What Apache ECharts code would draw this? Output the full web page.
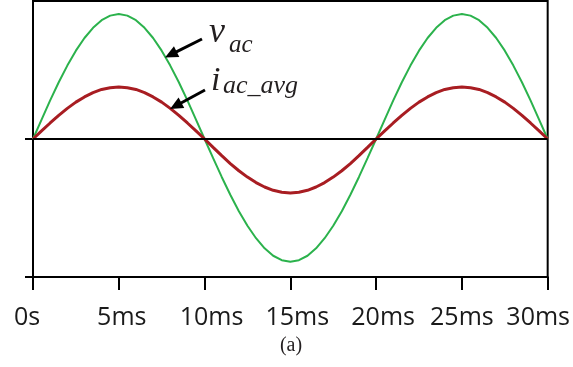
<!DOCTYPE html>
<html>
<head>
<meta charset="utf-8">
<script src="https://cdn.jsdelivr.net/npm/echarts@6/dist/echarts.min.js"></script>
<style>
html,body{margin:0;padding:0;background:#fff;}
#chart{width:573px;height:367px;}
</style>
</head>
<body>
<div id="chart"></div>
<script>
// time axis (ms)
var timeMs = [0,0.5,1,1.5,2,2.5,3,3.5,4,4.5,5,5.5,6,6.5,7,7.5,8,8.5,9,9.5,10,
  10.5,11,11.5,12,12.5,13,13.5,14,14.5,15,15.5,16,16.5,17,17.5,18,18.5,19,19.5,20,
  20.5,21,21.5,22,22.5,23,23.5,24,24.5,25,25.5,26,26.5,27,27.5,28,28.5,29,29.5,30];
// v_ac (normalized)
var vac = [0,0.141,0.280,0.411,0.532,0.640,0.732,0.806,0.861,0.894,0.906,
  0.894,0.861,0.806,0.732,0.640,0.532,0.411,0.280,0.141,0,
  -0.139,-0.275,-0.404,-0.523,-0.629,-0.719,-0.792,-0.846,-0.878,-0.889,
  -0.878,-0.846,-0.792,-0.719,-0.629,-0.523,-0.404,-0.275,-0.139,0,
  0.141,0.280,0.411,0.532,0.640,0.732,0.806,0.861,0.894,0.906,
  0.894,0.861,0.806,0.732,0.640,0.532,0.411,0.280,0.141,0];
// i_ac_avg (normalized)
var iacAvg = [0,0.059,0.116,0.171,0.222,0.267,0.305,0.336,0.359,0.372,0.377,
  0.372,0.359,0.336,0.305,0.267,0.222,0.171,0.116,0.059,0,
  -0.061,-0.121,-0.178,-0.230,-0.276,-0.316,-0.348,-0.372,-0.386,-0.391,
  -0.386,-0.372,-0.348,-0.316,-0.276,-0.230,-0.178,-0.121,-0.061,0,
  0.059,0.116,0.171,0.222,0.267,0.305,0.336,0.359,0.372,0.377,
  0.372,0.359,0.336,0.305,0.267,0.222,0.171,0.116,0.059,0];
var xTickValues = [0,5,10,15,20,25,30];
var xTickLabels = ['0s','5ms','10ms','15ms','20ms','25ms','30ms'];
var caption = '(a)';

var chart = echarts.init(document.getElementById('chart'), null, {renderer:'canvas'});

function pairs(xs, ys){ return xs.map(function(x,i){ return [x, ys[i]]; }); }

// per-label horizontal nudges (style)
var labelPad = {
  r0:[0,12,0,0], r1:[0,0,0,6], r2:[0,0,0,14], r3:[0,0,0,14],
  r4:[0,0,0,14], r5:[0,0,0,0], r6:[0,19,0,0]
};
var rich = {};
Object.keys(labelPad).forEach(function(k){
  rich[k] = {fontFamily:'"Open Sans", sans-serif', fontSize:25, color:'#1a1a1a', padding:labelPad[k]};
});

function arrow(x1,y1,x2,y2){
  var dx=x2-x1, dy=y2-y1, L=Math.sqrt(dx*dx+dy*dy), ux=dx/L, uy=dy/L;
  var hl=13, hw=6;
  var bx=x2-ux*hl, by=y2-uy*hl;
  return [
    {type:'line', shape:{x1:x1,y1:y1,x2:bx+ux*2,y2:by+uy*2}, style:{stroke:'#000',lineWidth:3}, z:100},
    {type:'polygon', shape:{points:[[x2,y2],[bx-uy*hw,by+ux*hw],[bx+uy*hw,by-ux*hw]]}, style:{fill:'#000'}, z:100}
  ];
}

var serif = '"Liberation Serif", "Times New Roman", serif';
function txt(x, y, s, size, italic, align){
  return {type:'text', x:x, y:y, z:100,
    style:{text:s, fontFamily:serif, fontSize:size, fontStyle:italic?'italic':'normal',
      fill:'#231f20', verticalAlign:'middle', align:align||'left'}};
}
var graphics = [].concat(
  arrow(202,39,165,57.5),
  arrow(205,90,170,109),
  [
    txt(209, 33, 'v', 36, true),
    txt(229, 45, 'ac', 25, true),
    txt(211, 81, 'i', 34, true),
    txt(223, 86, 'ac_avg', 26, true),
    txt(291, 346, caption, 20, false, 'center')
  ]
);

chart.setOption({
  animation:false,
  backgroundColor:'#fff',
  grid:{left:33, right:25, top:1, bottom:90, show:true, borderColor:'#000', borderWidth:2, containLabel:false},
  xAxis:{
    type:'value', min:0, max:30, interval:5,
    axisLine:{onZero:false, lineStyle:{color:'#000', width:2}},
    axisTick:{show:true, length:13, inside:false, lineStyle:{color:'#000', width:2}},
    splitLine:{show:false},
    axisLabel:{
      margin:28,
      formatter:function(v){
        var i = xTickValues.indexOf(v);
        return '{r'+i+'|'+xTickLabels[i]+'}';
      },
      rich:rich
    }
  },
  yAxis:{
    type:'value', min:-1, max:1, interval:1,
    axisLine:{show:true, lineStyle:{color:'#000', width:2}},
    axisTick:{show:true, length:8, inside:false, customValues:[-1,0], lineStyle:{color:'#000', width:2}},
    axisLabel:{show:false},
    splitLine:{show:false}
  },
  series:[
    {type:'line', name:'v_ac', data:pairs(timeMs,vac), showSymbol:false, symbol:'none',
     lineStyle:{color:'#2bb24c', width:2}, z:3,
     markLine:{silent:true, symbol:['none','none'], label:{show:false},
       lineStyle:{color:'#000', width:2, type:'solid'}, data:[{yAxis:0}], animation:false}},
    {type:'line', name:'i_ac_avg', data:pairs(timeMs,iacAvg), showSymbol:false, symbol:'none',
     lineStyle:{color:'#a81d22', width:3}, z:4}
  ],
  graphic:graphics
});
</script>
</body>
</html>
